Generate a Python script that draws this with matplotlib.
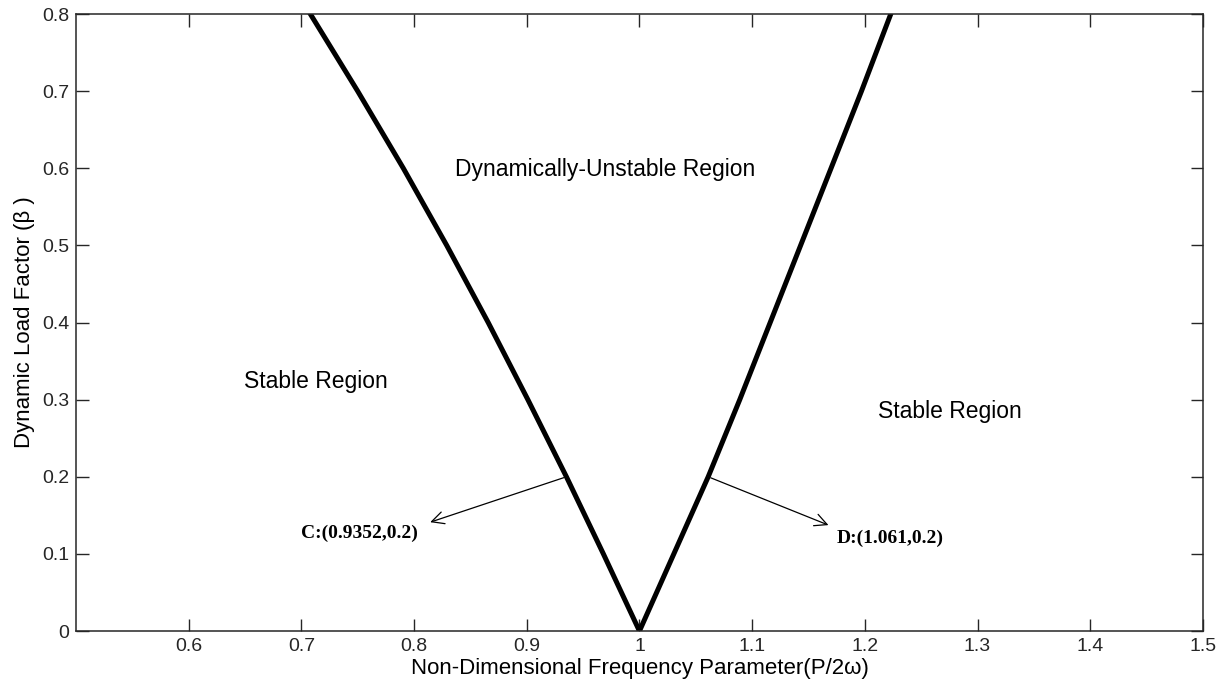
import matplotlib
matplotlib.use('Agg')
import matplotlib.pyplot as plt
import numpy as np

# stability boundary: dynamic load factor vs. frequency parameter
beta = [0.0, 0.1, 0.2, 0.3, 0.4, 0.5, 0.6, 0.7, 0.8]
left_branch = [1.0, 0.968, 0.9352, 0.9010, 0.8658, 0.8290, 0.7905, 0.7500, 0.708]
right_branch = [1.0, 1.0305, 1.061, 1.089, 1.116, 1.143, 1.170, 1.197, 1.223]

x_ticks = [0.6, 0.7, 0.8, 0.9, 1.0, 1.1, 1.2, 1.3, 1.4, 1.5]
x_tick_labels = ['0.6', '0.7', '0.8', '0.9', '1', '1.1', '1.2', '1.3', '1.4', '1.5']
y_ticks = [0, 0.1, 0.2, 0.3, 0.4, 0.5, 0.6, 0.7, 0.8]
y_tick_labels = ['0', '0.1', '0.2', '0.3', '0.4', '0.5', '0.6', '0.7', '0.8']

# marked points on the boundary at beta = 0.2
pt_c = (0.9352, 0.2)
pt_d = (1.061, 0.2)

plt.rcParams['font.family'] = ['Liberation Sans', 'DejaVu Sans']

fig = plt.figure(figsize=(12.25, 6.88), dpi=100)
ax = fig.add_axes([0.062, 0.0828, 0.920, 0.8968])

ax.plot(left_branch, beta, color='black', lw=3.6, solid_joinstyle='round')
ax.plot(right_branch, beta, color='black', lw=3.6, solid_joinstyle='round')

ax.set_xlim(0.5, 1.5)
ax.set_ylim(0, 0.8)
ax.set_xticks(x_ticks)
ax.set_xticklabels(x_tick_labels)
ax.set_yticks(y_ticks)
ax.set_yticklabels(y_tick_labels)
ax.tick_params(direction='in', length=9, width=1, top=True, right=True,
               labelsize=14, colors='#262626', pad=5)
for s in ax.spines.values():
    s.set_linewidth(1.1)
    s.set_color('#262626')

ax.set_xlabel('Non-Dimensional Frequency Parameter(P/2\u03c9)', fontsize=16, labelpad=2)
ax.set_ylabel('Dynamic Load Factor (\u03b2 )', fontsize=16, labelpad=5)

ax.text(1.1025, 0.598, 'Dynamically-Unstable Region', fontsize=16.5,
        ha='right', va='center')
ax.text(0.713, 0.323, 'Stable Region', fontsize=16.5, ha='center', va='center')
ax.text(1.275, 0.285, 'Stable Region', fontsize=16.5, ha='center', va='center')

arrow = dict(arrowstyle='->', color='black', lw=0.9, mutation_scale=22)
ax.annotate('', xy=(0.812, 0.14), xytext=pt_c, arrowprops=arrow)
ax.annotate('', xy=(1.17, 0.136), xytext=pt_d, arrowprops=arrow)
ax.text(0.803, 0.127, 'C:(%.4f,%.1f)' % pt_c, fontsize=14, fontweight='bold',
        family='Liberation Serif', ha='right', va='center')
ax.text(1.175, 0.12, 'D:(%.3f,%.1f)' % pt_d, fontsize=14, fontweight='bold',
        family='Liberation Serif', ha='left', va='center')

fig.savefig('out.png', dpi=100)
